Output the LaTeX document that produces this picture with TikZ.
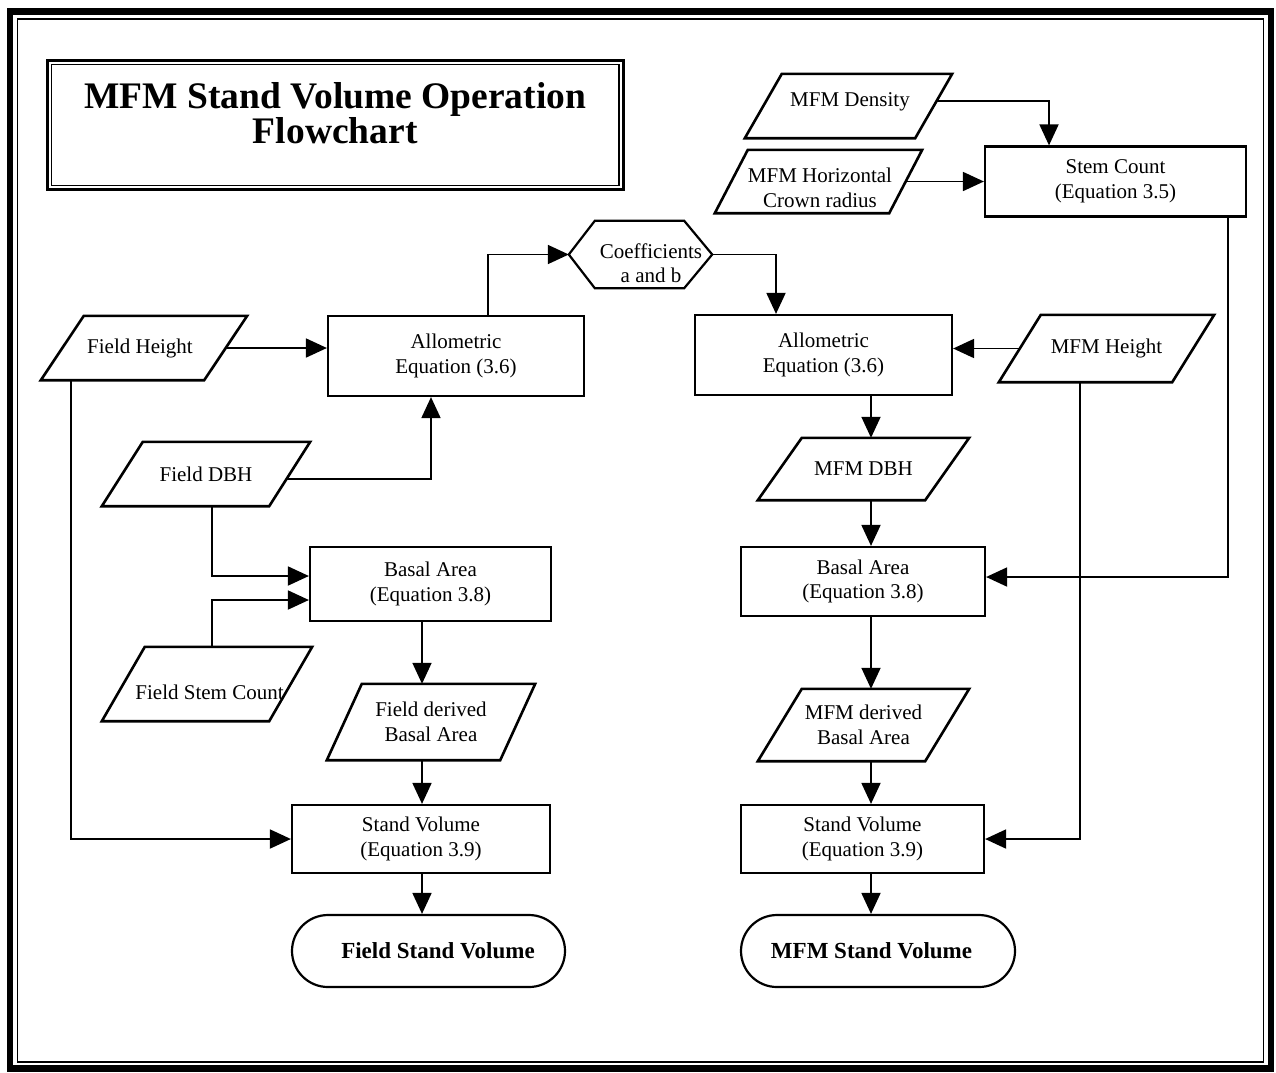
\documentclass[tikz,border=0pt]{standalone}
\usepackage{fontspec}
\setmainfont{Liberation Serif}
\usetikzlibrary{arrows.meta,calc}
\newcommand\bodyfnt{\fontsize{21}{24.5}\selectfont}
\newcommand\termfnt{\fontsize{23}{26}\selectfont\bfseries}
\newcommand\titlefnt{\fontsize{37.5}{35}\selectfont\bfseries}
\newcommand\parashape[2]{\draw[shp, line width=2.6pt] ([xshift=#2]#1.north west) -- (#1.north east) -- ([xshift=-#2]#1.south east) -- (#1.south west) -- cycle;}
\tikzset{
  shp/.style={draw, line width=2.2pt, line join=miter},
  box/.style={shp, rectangle, inner sep=0pt, align=center, font=\bodyfnt},
  pbox/.style={rectangle, inner sep=0pt, align=center, font=\bodyfnt},
  txt/.style={inner sep=0pt, align=center, font=\bodyfnt},
  conn/.style={line width=1.8pt, -{Triangle[length=21pt,width=19pt]}},
  term/.style={shp, rounded corners=36pt, inner sep=0pt},
}
\begin{document}
\begin{tikzpicture}[x=1pt,y=-1pt]
\path[use as bounding box, fill=white] (0,0) rectangle (1276,1072);
% outer frame
\draw[line width=6.5pt] (10,11.5) rectangle (1271,1068.5);
\draw[line width=1.5pt] (17.5,19) rectangle (1263.5,1062);
% title
\node[draw, line width=3pt, minimum width=575.5pt, minimum height=129pt, inner sep=0pt,
      label={[inner sep=0pt, align=center, font=\titlefnt, yshift=11.8pt]center:MFM Stand Volume Operation\\Flowchart}]
      (title) at (335.25,125) {};
\draw[line width=1.5pt] ([xshift=5.5pt,yshift=-5.5pt]title.north west) rectangle ([xshift=-5.5pt,yshift=5.5pt]title.south east);
\coordinate (colL) at (422,0);
\coordinate (colR) at (871,0);
% parallelograms
\node[pbox, minimum width=207pt, minimum height=64pt, label={[txt, xshift=1.5pt, yshift=4pt]center:MFM Density}] (dens) at (848.5,106) {};
\parashape{dens}{37pt}
\node[pbox, minimum width=207pt, minimum height=63pt, label={[txt, xshift=1.5pt, yshift=-6.5pt]center:MFM Horizontal\\Crown radius}] (mhor) at (818.5,181.5) {};
\parashape{mhor}{33pt}
\node[pbox, minimum width=206pt, minimum height=64pt, label={[txt, xshift=-4pt]center:Field Height}] (fh) at (144,348) {};
\parashape{fh}{43pt}
\node[pbox, minimum width=208pt, minimum height=64pt] (fdbh) at (206,474) {Field DBH};
\parashape{fdbh}{41pt}
\node[pbox, minimum width=210pt, minimum height=74pt, label={[txt, xshift=2.5pt, yshift=-8pt]center:Field Stem Count}] (fsc) at (207,684) {};
\parashape{fsc}{43pt}
\node[pbox, minimum width=208pt, minimum height=76pt] (fd) at (431,722) {Field derived\\Basal Area};
\parashape{fd}{35pt}
\node[pbox, minimum width=215pt, minimum height=67pt] (mhgt) at (1106.5,348.5) {MFM Height};
\parashape{mhgt}{42pt}
\node[pbox, minimum width=211pt, minimum height=62pt] (mdbh) at (863.5,469) {MFM DBH};
\parashape{mdbh}{44pt}
\node[pbox, minimum width=211pt, minimum height=72pt] (md) at (863.5,725) {MFM derived\\Basal Area};
\parashape{md}{44pt}
% hexagon
\node[pbox, minimum width=143pt, minimum height=67pt, label={[txt, xshift=10.5pt, yshift=-8.5pt]center:Coefficients\\a and b}] (coef) at (640.5,254.5) {};
\draw[shp] (coef.west) -- ([xshift=26pt]coef.north west) -- ([xshift=-28pt]coef.north east) -- (coef.east) -- ([xshift=-28pt]coef.south east) -- ([xshift=26pt]coef.south west) -- cycle;
% boxes
\node[box, minimum width=261pt, minimum height=70pt] (sc) at (1115.5,181.5) {Stem Count\\(Equation 3.5)};
\node[box, minimum width=256pt, minimum height=80pt] (al) at (456,356) {Allometric\\Equation (3.6)};
\node[box, minimum width=257pt, minimum height=80pt] (ar) at (823.5,355) {Allometric\\Equation (3.6)};
\node[box, minimum width=241pt, minimum height=74pt] (bl) at (430.5,584) {Basal Area\\(Equation 3.8)};
\node[box, minimum width=244pt, minimum height=69pt] (br) at (863,581.5) {Basal Area\\(Equation 3.8)};
\node[box, minimum width=258pt, minimum height=68pt] (sl) at (421,839) {Stand Volume\\(Equation 3.9)};
\node[box, minimum width=243pt, minimum height=68pt] (sr) at (862.5,839) {Stand Volume\\(Equation 3.9)};
% terminals
\node[term, minimum width=273pt, minimum height=72pt, label={[inner sep=0pt, font=\termfnt, xshift=9.5pt]center:Field Stand Volume}] (tl) at (428.5,951) {};
\node[term, minimum width=274pt, minimum height=72pt, label={[inner sep=0pt, font=\termfnt, xshift=-6.5pt]center:MFM Stand Volume}] (tr) at (878,951) {};
% connectors, right top
\draw[conn] ([xshift=-16.5pt,yshift=5pt]dens.east) -| ([xshift=-66.5pt]sc.north);
\draw[conn] ([xshift=-16.5pt]mhor.east) -- (mhor.east -| sc.west);
\draw[conn] ([xshift=112.5pt]sc.south) |- ([yshift=4.5pt]br.east);
% coefficients loop
\draw[conn] ([xshift=32pt]al.north) |- (coef.west);
\draw[conn] (coef.east) -| ([xshift=-47.5pt]ar.north);
% left column
\draw[conn] ([xshift=-21.5pt]fh.east) -- (fh.east -| al.west);
\draw[conn] ([xshift=-24pt,yshift=-5pt]fdbh.east) -| ([xshift=-25pt]al.south);
\draw[conn] ([xshift=6pt]fdbh.south) |- ([yshift=8pt]bl.west);
\draw[conn] ([xshift=5pt]fsc.north) |- ([yshift=-16pt]bl.west);
\draw[conn] (bl.south -| colL) -- (fd.north -| colL);
\draw[conn] (fd.south -| colL) -- (sl.north -| colL);
\draw[conn] (sl.south -| colL) -- (tl.north -| colL);
\draw[conn] ([xshift=-73pt]fh.south) |- (sl.west);
% right column
\draw[conn] ([xshift=21pt]mhgt.west) -- (mhgt.west -| ar.east);
\draw[conn] ([xshift=-26.5pt]mhgt.south) |- (sr.east);
\draw[conn] (ar.south -| colR) -- (mdbh.north -| colR);
\draw[conn] (mdbh.south -| colR) -- (br.north -| colR);
\draw[conn] (br.south -| colR) -- (md.north -| colR);
\draw[conn] (md.south -| colR) -- (sr.north -| colR);
\draw[conn] (sr.south -| colR) -- (tr.north -| colR);
\end{tikzpicture}
\end{document}
